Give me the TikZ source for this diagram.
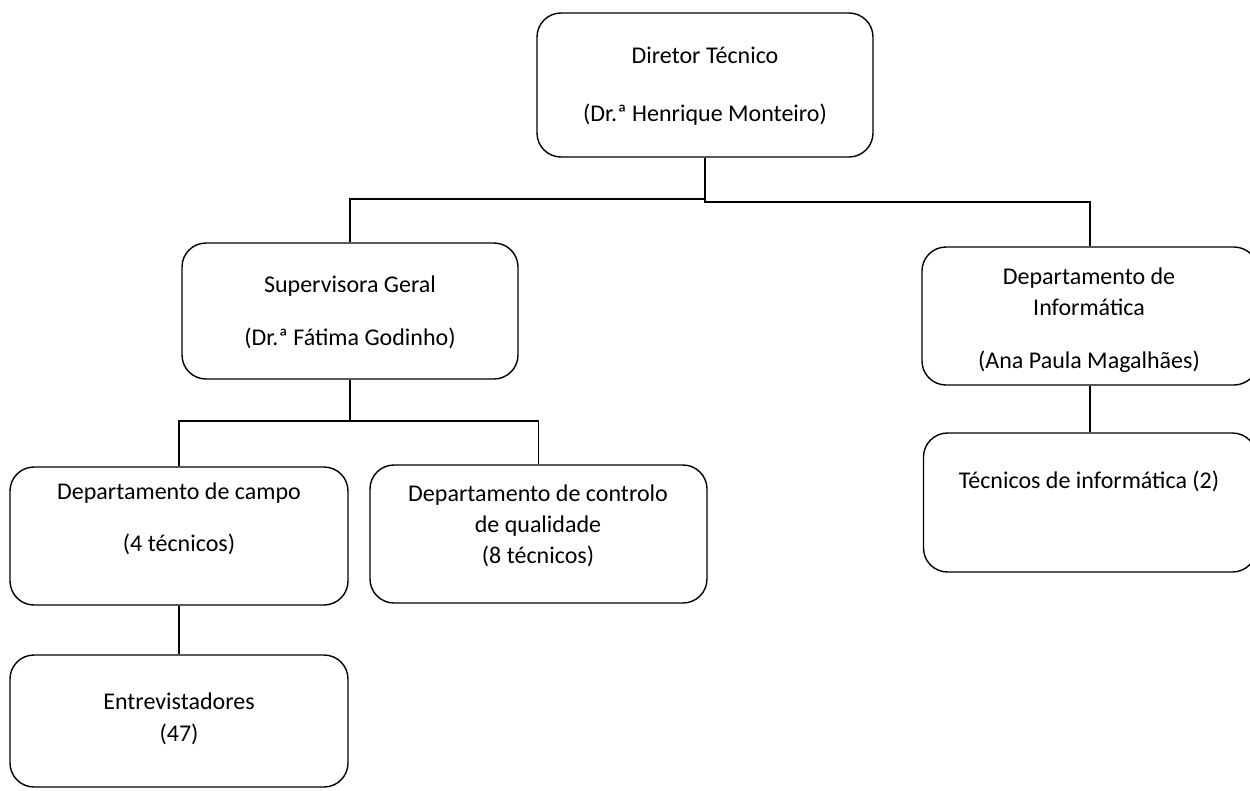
\documentclass[tikz,border=0pt]{standalone}
\usepackage{fontspec}
\setmainfont{Carlito}
\begin{document}
\begin{tikzpicture}[x=1pt,y=-1pt,
  box/.style={draw=black,line width=1.4pt,rounded corners=24pt,inner sep=0pt},
  txt/.style={inner sep=0pt,font=\fontsize{24}{29}\selectfont,text height=17pt,text depth=5pt,anchor=center},
  link/.style={draw=black,line width=1.4pt}]
\useasboundingbox (0,0) rectangle (1250,790);
\fill[white] (0,0) rectangle (1250,790);
% boxes
\node[box,minimum width=336pt,minimum height=144pt] (dir) at (705,85) {};
\node[box,minimum width=336pt,minimum height=136pt] (sup) at (350,311) {};
\node[box,minimum width=336pt,minimum height=138pt] (inf) at (1090,316) {};
\node[box,minimum width=333pt,minimum height=139pt] (tec) at (1090,502.5) {};
\node[box,minimum width=338pt,minimum height=138pt] (campo) at (179,536) {};
\node[box,minimum width=337pt,minimum height=138pt] (ctrl) at (538.5,534) {};
\node[box,minimum width=338pt,minimum height=132pt] (ent) at (179,721) {};
% texts
\node[txt] (dir1) at (705,57) {Diretor Técnico};
\node[txt] (dir2) at (705,115) {(Dr.ª Henrique Monteiro)};
\node[txt] (sup1) at (350,286) {Supervisora Geral};
\node[txt] (sup2) at (350,339) {(Dr.ª Fátima Godinho)};
\node[txt] (inf1) at (1089,278) {Departamento de};
\node[txt] (inf2) at (1089,309) {Informática};
\node[txt] (inf3) at (1089,362) {(Ana Paula Magalhães)};
\node[txt] (tec1) at (1089,482) {Técnicos de informática (2)};
\node[txt] (campo1) at (179,493) {Departamento de campo};
\node[txt] (campo2) at (179,545) {(4 técnicos)};
\node[txt] (ctrl1) at (538,495) {Departamento de controlo};
\node[txt] (ctrl2) at (538,526) {de qualidade};
\node[txt] (ctrl3) at (538,557) {(8 técnicos)};
\node[txt] (ent1) at (179,703) {Entrevistadores};
\node[txt] (ent2) at (179,735) {(47)};
% connectors
\coordinate (j1) at (dir.south |- 0,199);
\coordinate (j2) at (dir.south |- 0,202);
\coordinate (j3) at (sup.south |- 0,421);
\draw[link] (dir.south) -- (j2) -| (inf.north);
\draw[link] (j1) -| (sup.north);
\draw[link] (sup.south) -- (j3) -| (ctrl.north);
\draw[link] (j3) -| (campo.north);
\draw[link] (campo.south) -- (ent.north);
\draw[link] (inf.south) -- (tec.north);
\end{tikzpicture}
\end{document}
